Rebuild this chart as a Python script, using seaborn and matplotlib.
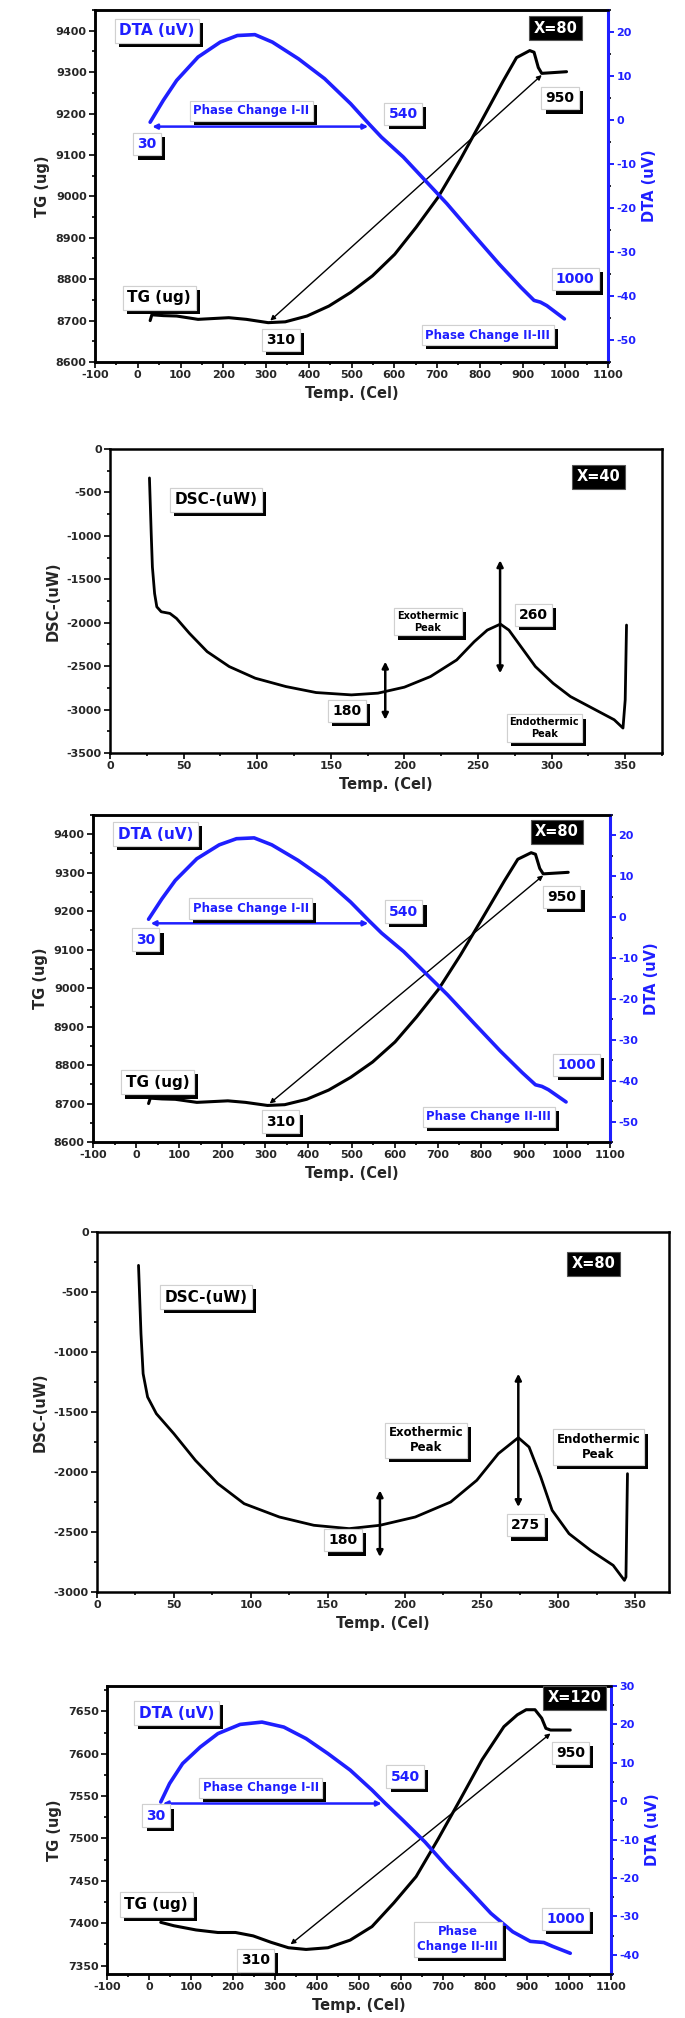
import matplotlib
matplotlib.use("Agg")
import matplotlib.pyplot as plt
import matplotlib.patheffects as pe
from matplotlib.ticker import MultipleLocator
import seaborn as sns

# ---- data ----
# X=80 TG / DTA run (panels 1 and 3)
tg80_temp = [29, 33, 60, 91, 141, 213, 254, 305, 345, 396, 447, 498, 549, 601, 651,
             702, 753, 804, 855, 886, 917, 927, 937, 945, 1003]
tg80_mass = [8700, 8714, 8712, 8711, 8703, 8707, 8703, 8695, 8697, 8711, 8735, 8768, 8808, 8860, 8925,
             8997, 9086, 9182, 9279, 9335, 9352, 9348, 9311, 9297, 9301]
dta80_temp = [29, 60, 91, 141, 193, 233, 274, 315, 376, 437, 498, 540, 570, 621, 672,
              723, 784, 845, 896, 927, 942, 957, 998]
dta80_volt = [-0.5, 4.5, 9.0, 14.3, 17.7, 19.2, 19.4, 17.7, 13.9, 9.4, 3.7, -0.8, -3.9, -8.4, -13.7,
              -19.0, -25.9, -32.7, -38.0, -41.0, -41.4, -42.2, -45.2]
tg80_link_temp = [310, 945]
tg80_link_mass = [8700, 9293]
dta80_arrow_temp = [34, 539]
dta80_arrow_volt = [-1.5, -1.5]

# X=40 DSC run (panel 2)
dsc40_temp = [26.8, 28, 28.8, 30.3, 31.8, 34.8, 40.7, 45.2, 54, 66, 81, 98.7, 119.5, 140, 164, 182,
              200, 217.7, 235.5, 247.4, 256.3, 265.2, 271, 280, 289, 301, 312.8, 327.7, 342.5, 348.5,
              350, 350.9]
dsc40_power = [-333, -975, -1358, -1664, -1817, -1874, -1893, -1951, -2123, -2333, -2505, -2639,
               -2735, -2804, -2831, -2811, -2742, -2620, -2429, -2219, -2085, -2016, -2085, -2295,
               -2505, -2697, -2850, -2984, -3117, -3213, -2888, -2027]
dsc40_arrow_temp = [187, 265]
dsc40_arrow_low = [-3117, -2582]
dsc40_arrow_high = [-2448, -1281]

# X=80 DSC run (panel 4)
dsc80_temp = [27, 28.6, 30, 32.9, 38.6, 50, 64, 78.6, 95.7, 118.6, 141, 164, 184, 207, 230, 247,
              261, 274, 281, 288.6, 296, 307, 321, 335.7, 343, 344, 345]
dsc80_power = [-278, -847, -1181, -1375, -1514, -1681, -1903, -2097, -2264, -2375, -2444, -2472,
               -2444, -2375, -2250, -2069, -1847, -1714, -1792, -2042, -2319, -2514, -2653, -2778,
               -2903, -2875, -2014]
dsc80_arrow_temp = [184, 274]
dsc80_arrow_low = [-2708, -2292]
dsc80_arrow_high = [-2153, -1181]

# X=120 TG / DTA run (panel 5)
tg120_temp = [28, 59, 112, 164, 206, 248, 290, 332, 374, 426, 479, 531, 583, 636, 688, 741, 793,
              845, 877, 898, 919, 935, 945, 956, 1003]
tg120_mass = [7401, 7397, 7392, 7389, 7389, 7385, 7377.5, 7371, 7369, 7371, 7380, 7396, 7424,
              7455, 7499, 7546, 7593, 7632, 7646, 7652, 7652, 7642, 7630, 7628, 7628]
dta120_temp = [28, 49, 80, 122, 164, 217, 269, 321, 374, 426, 479, 531, 563, 604, 657, 709, 762,
               814, 866, 908, 940, 961, 1003]
dta120_volt = [-0.2, 4.6, 9.8, 14.1, 17.6, 20.0, 20.6, 19.3, 16.3, 12.4, 8.1, 2.9, -0.6, -4.9,
               -10.6, -17.0, -23.1, -29.2, -34.0, -36.5, -36.8, -37.8, -39.6]
tg120_link_temp = [337, 956]
tg120_link_mass = [7375, 7624]
dta120_arrow_temp = [33, 554]
dta120_arrow_volt = [-0.6, -0.6]

BLUE = '#1f1fff'
W, H = 685, 2018

sns.set_style("ticks")
plt.rcParams['font.family'] = ['DejaVu Sans']
plt.rcParams['font.weight'] = 'bold'
plt.rcParams['axes.labelweight'] = 'bold'
plt.rcParams['axes.unicode_minus'] = False


def px_axes(fig, left, top, right, bottom):
    return fig.add_axes([left / W, 1 - bottom / H, (right - left) / W, (bottom - top) / H])


def style(ax):
    for s in ax.spines.values():
        s.set_linewidth(1.8)
        s.set_color('black')
    ax.tick_params(which='both', direction='out', width=1.4, labelsize=8, pad=2)
    ax.tick_params(which='major', length=4)
    ax.tick_params(which='minor', length=2.5)


def boxed(ax, x, y, s, color='black', size=10, transform=None):
    t = ax.text(x, y, s, color=color, fontsize=size, fontweight='bold', ha='center', va='center',
                multialignment='center', zorder=6, transform=transform or ax.transData,
                bbox=dict(boxstyle='square,pad=0.3', fc='white', ec='#d0d0d0', lw=0.8))
    t.get_bbox_patch().set_path_effects(
        [pe.withSimplePatchShadow(offset=(3, -3), shadow_rgbFace='black', alpha=1), pe.Normal()])
    return t


def tag(ax, x, y, s, transform=None):
    ax.text(x, y, s, color='white', fontsize=10.5, fontweight='bold', ha='center', va='center',
            zorder=6, transform=transform or ax.transData,
            bbox=dict(boxstyle='square,pad=0.3', fc='black', ec='#555555', lw=0.8))


def tg_panel(fig, rect, tg_t, tg_m, dta_t, dta_v, link_t, link_m, arr_t, arr_v,
             tg_lim, tg_step, dta_lim, labels, xtag):
    ax = px_axes(fig, *rect)
    ax2 = ax.twinx()
    sns.lineplot(x=tg_t, y=tg_m, ax=ax, color='black', lw=2.2, sort=False, estimator=None)
    ax.annotate('', xy=(link_t[0], link_m[0]), xytext=(link_t[1], link_m[1]),
                arrowprops=dict(arrowstyle='<|-|>', lw=1.0, color='black', mutation_scale=7,
                                shrinkA=0, shrinkB=0))
    sns.lineplot(x=dta_t, y=dta_v, ax=ax2, color=BLUE, lw=2.6, sort=False, estimator=None)
    ax2.annotate('', xy=(arr_t[0], arr_v[0]), xytext=(arr_t[1], arr_v[1]),
                 arrowprops=dict(arrowstyle='<|-|>', lw=1.8, color=BLUE, mutation_scale=7,
                                 shrinkA=0, shrinkB=0))
    ax.set_xlim(-100, 1100)
    ax.set_ylim(*tg_lim)
    ax2.set_ylim(*dta_lim)
    ax.xaxis.set_major_locator(MultipleLocator(100))
    ax.xaxis.set_minor_locator(MultipleLocator(50))
    ax.yaxis.set_major_locator(MultipleLocator(tg_step))
    ax.yaxis.set_minor_locator(MultipleLocator(tg_step / 2))
    ax2.yaxis.set_major_locator(MultipleLocator(10))
    ax2.yaxis.set_minor_locator(MultipleLocator(5))
    style(ax)
    style(ax2)
    ax2.spines['right'].set_color(BLUE)
    ax2.spines['right'].set_linewidth(2.2)
    ax2.tick_params(axis='y', colors=BLUE, labelcolor=BLUE)
    ax.set_xlabel('Temp. (Cel)', fontsize=10.5)
    ax.set_ylabel('TG (ug)', fontsize=10.5)
    ax2.set_ylabel('DTA (uV)', fontsize=10.5, color=BLUE)
    # labels are placed in TG units but drawn on the top axes
    for x, y, s, c, size in labels:
        boxed(ax2, x, y, s, c, size, transform=ax.transData)
    tag(ax2, *xtag, transform=ax.transData)
    return ax, ax2


def dsc_panel(fig, rect, temp, power, arr_t, arr_low, arr_high, xlim, ylim, labels, xtag):
    ax = px_axes(fig, *rect)
    sns.lineplot(x=temp, y=power, ax=ax, color='black', lw=2.0, sort=False, estimator=None)
    for t, lo, hi in zip(arr_t, arr_low, arr_high):
        ax.annotate('', xy=(t, lo), xytext=(t, hi),
                    arrowprops=dict(arrowstyle='<|-|>', lw=1.8, color='black', mutation_scale=9,
                                    shrinkA=0, shrinkB=0))
    ax.set_xlim(*xlim)
    ax.set_ylim(*ylim)
    ax.xaxis.set_major_locator(MultipleLocator(50))
    ax.xaxis.set_minor_locator(MultipleLocator(25))
    ax.yaxis.set_major_locator(MultipleLocator(500))
    ax.yaxis.set_minor_locator(MultipleLocator(250))
    style(ax)
    ax.set_xlabel('Temp. (Cel)', fontsize=10.5)
    ax.set_ylabel('DSC-(uW)', fontsize=10.5)
    for x, y, s, size in labels:
        boxed(ax, x, y, s, 'black', size)
    tag(ax, *xtag)
    return ax


fig = plt.figure(figsize=(W / 100, H / 100), dpi=100)
fig.patch.set_facecolor('white')

labels80 = [(45, 9400, 'DTA (uV)', BLUE, 11), (50, 8755, 'TG (ug)', 'black', 11),
            (988, 9237, '950', 'black', 10), (621, 9199, '540', BLUE, 10),
            (22, 9126, '30', BLUE, 10), (266, 9207, 'Phase Change I-II', BLUE, 8.5),
            (335, 8653, '310', 'black', 10), (1023, 8800, '1000', BLUE, 10),
            (819, 8665, 'Phase Change II-III', BLUE, 8.5)]

tg_panel(fig, (95, 10, 608, 362), tg80_temp, tg80_mass, dta80_temp, dta80_volt,
         tg80_link_temp, tg80_link_mass, dta80_arrow_temp, dta80_arrow_volt,
         (8600, 9450), 100, (-55, 25), labels80, (977, 9406, 'X=80'))

dsc_panel(fig, (110, 449, 662, 753), dsc40_temp, dsc40_power, dsc40_arrow_temp,
          dsc40_arrow_low, dsc40_arrow_high, (0, 375), (-3500, 0),
          [(72, -585, 'DSC-(uW)', 11), (216, -1989, 'Exothermic\nPeak', 7),
           (287.5, -1913, '260', 10), (161, -3014, '180', 10),
           (295, -3213, 'Endothermic\nPeak', 7)],
          (332, -321, 'X=40'))

tg_panel(fig, (93, 815, 610, 1142), tg80_temp, tg80_mass, dta80_temp, dta80_volt,
         tg80_link_temp, tg80_link_mass, dta80_arrow_temp, dta80_arrow_volt,
         (8600, 9450), 100, (-55, 25), labels80, (977, 9406, 'X=80'))

dsc_panel(fig, (97, 1232, 669, 1592), dsc80_temp, dsc80_power, dsc80_arrow_temp,
          dsc80_arrow_low, dsc80_arrow_high, (0, 372), (-3000, 0),
          [(71, -542, 'DSC-(uW)', 11), (214, -1736, 'Exothermic\nPeak', 8.5),
           (326, -1792, 'Endothermic\nPeak', 8.5), (278.6, -2444, '275', 10),
           (160, -2569, '180', 10)],
          (323, -264, 'X=80'))

labels120 = [(65, 7648, 'DTA (uV)', BLUE, 11), (1003, 7601, '950', 'black', 10),
             (610, 7573, '540', BLUE, 10), (266, 7560, 'Phase Change I-II', BLUE, 8.5),
             (17, 7527, '30', BLUE, 10), (17, 7422, 'TG (ug)', 'black', 11),
             (253, 7356, '310', 'black', 10), (992, 7405, '1000', BLUE, 10),
             (735, 7381, 'Phase\nChange II-III', BLUE, 8.5)]

tg_panel(fig, (107, 1686, 611, 1974), tg120_temp, tg120_mass, dta120_temp, dta120_volt,
         tg120_link_temp, tg120_link_mass, dta120_arrow_temp, dta120_arrow_volt,
         (7340, 7680), 50, (-45, 30), labels120, (1013, 7666, 'X=120'))

fig.savefig('out.png', dpi=100, facecolor='white')
